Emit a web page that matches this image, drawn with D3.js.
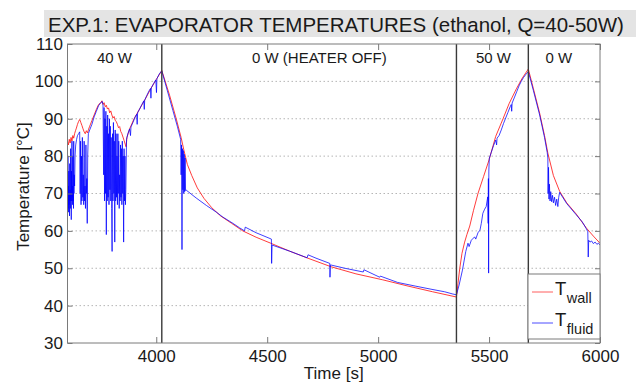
<!DOCTYPE html>
<html><head><meta charset="utf-8">
<script src="https://cdn.jsdelivr.net/npm/d3@7"></script>
<style>
body{margin:0;background:#fff}
svg{display:block}
text{font-family:"Liberation Sans",Arial,Helvetica,sans-serif;fill:#1a1a1a}
</style>
</head><body>
<svg id="c" width="636" height="383"></svg>
<script>
// ---- data ----
const wallTime=[3600,3604,3608,3612,3616,3620,3624,3628,3632,3636,3640,3645,3650,3655,3660,3665,3670,3675,3680,3685,3690,3695,3700,3710,3720,3730,3740,3750,3755,3760,3765,3770,3775,3780,3785,3790,3795,3800,3805,3810,3815,3820,3825,3830,3835,3840,3845,3850,3855,3860,3864,3868,3880,3900,3925,3950,3975,4000,4025,4060,4090,4112,4125,4140,4160,4185,4215,4250,4290,4340,4390,4450,4516,4600,4683,4788,4900,5021,5130,5246,5353,5360,5368,5378,5390,5400,5413,5430,5450,5475,5500,5530,5563,5590,5623,5650,5677,5700,5728,5750,5765,5790,5818,5850,5893,5938,5970,6000];
const wallTemp=[84,83,84.5,83.5,85,84,85.5,84.8,86,86.8,87.5,88.5,89.3,89.8,89,88.2,87.3,86.5,86,86.8,86.2,87.2,88,89.5,91,92.5,93.8,94.3,94.8,93.8,94.3,93.2,93.6,92.6,92.9,91.6,92.1,91,90.2,90.6,89.6,89.2,88.5,87.6,87.9,86.6,86,85.1,84.2,83.2,82.5,85,87.3,90,92.6,95.2,98,100.5,102.9,96.3,90,85,81.5,77.8,74.8,71.5,68.7,66.2,64,62,60,58.3,56.7,54.6,52.7,50.4,48.5,46.9,45.3,43.7,42.3,46,50,54,57,59,61.3,65.5,70,74.5,79,85.3,90,94,98,100.9,103.3,98,91.5,85.5,80.8,74.8,70.6,67.5,64.5,60.8,58.6,56.7];

const fluidTime=[3600,3601,3602,3603,3604,3605,3606,3607,3608,3609,3610,3611,3612,3613,3614,3615,3616,3617,3618,3619,3620,3621,3622,3623,3624,3625,3626,3627,3628,3629,3630,3632,3634,3637,3641,3645,3650,3655,3657,3659,3661,3663,3665,3667,3669,3671,3673,3675,3677,3679,3681,3683,3685,3687,3689,3691,3694,3700,3710,3720,3730,3740,3750,3757,3760,3763,3765,3767,3769,3771,3773,3775,3777,3779,3781,3783,3785,3787,3789,3791,3793,3795,3797,3799,3801,3803,3805,3807,3809,3811,3813,3815,3817,3819,3821,3823,3825,3827,3829,3831,3833,3835,3837,3839,3841,3843,3845,3847,3849,3851,3853,3855,3857,3859,3861,3863,3866,3872,3880,3884,3886,3895,3905,3912,3914,3916,3925,3935,3944,3946,3948,3958,3968,3974,3976,3978,3988,3998,4001,4003,4012,4020,4025,4050,4075,4095,4110,4112,4114,4116,4118,4120,4122,4124,4126,4128,4130,4132,4135,4180,4226,4271,4300,4346,4376,4398,4401,4450,4519,4520,4522,4600,4680,4684,4720,4782,4783,4785,4850,4933,4936,5007,5010,5088,5170,5238,5300,5337,5353,5365,5380,5395,5405,5410,5420,5435,5440,5450,5459,5465,5472,5480,5487,5494,5496,5497,5498,5499,5501,5510,5520,5530,5534,5536,5545,5555,5565,5575,5585,5595,5600,5602,5604,5615,5625,5635,5645,5655,5665,5677,5700,5728,5750,5762,5765,5766,5768,5770,5772,5775,5778,5782,5786,5790,5795,5800,5805,5810,5814,5818,5850,5893,5920,5938,5945,5947,5949,5955,5962,5970,5978,5986,5993,6000];
const fluidTemp=[77,67,80,66,72,65,76,67,70,64,78,68,71,66,82,68,70,63,76,68,84,69,72,67,80,68,70,66,84,70,75,72,80,83,84.5,85.5,86,86.5,70,84,67,80,68,85,69,75,67,84,68,72,66,83,70,74,62,80,86,87,88.5,90.5,92,93.5,94.3,94.6,93.8,75,93,68,90,70,92,59,88,68,91,69,86,67,90,71,88,68,85,66,54.5,86,68,89,70,84,57,87,68,86,69,80,67,86,70,84,66,75,68,83,69,82,67,84,70,80,57,82,68,80,67,71,84.5,86,87.3,85.5,87.8,89,90.5,91.2,88.5,91.6,92.6,93.8,94.8,92.5,95,96.3,97.5,98.1,95.5,98.3,99.4,100.4,97,100.7,101.8,102.5,102.8,97.5,92.2,88,84.5,75,83,55,82,71,81.5,70,80.5,70.5,79.5,70.8,70.9,68.8,66.8,65,63.7,62,60.8,60,61,59.5,57.8,51.3,56.2,54.6,52.8,53.6,52.7,51.3,47.6,50.9,50,49,49.6,47.6,47.9,46.2,45.2,44.4,43.7,43.1,42.9,45.5,49.5,54.5,56.7,55.8,57.5,58.4,57.8,59.5,60.2,62,64.7,65.8,66.5,69.1,62,74,48.7,76,79.4,81,82.8,84.3,83,84.8,85.5,87,88.7,90.2,91.7,93.2,93.8,92,94.2,95.8,97.3,98.8,100,101,101.8,102.6,97.5,91,85,81,79.5,70,77,68.5,72.5,68,70.5,67.8,69.5,67.5,69,66.8,68.5,66.5,69,70.3,67.3,64.3,62.4,60.6,59.8,53,57.5,57,57.3,56.6,57,56.4,56.7,56.2];

const xTicks=[4000,4500,5000,5500,6000];
const yTicks=[30,40,50,60,70,80,90,100,110];
const gridTemps=[40,50,60,70,80,90,100];
const phaseBounds=[4025,5353,5677];
const phaseLabels=["40 W","0 W (HEATER OFF)","50 W","0 W"];
const phaseLabelTimes=[3812,4735,5520,5815];
const titleText="EXP.1: EVAPORATOR TEMPERATURES (ethanol, Q=40-50W)";
const legendNames=[["T","wall"],["T","fluid"]];
const seriesColors=["#ff1a1a","#0000ff"];

// ---- layout ----
const L=67.5,R=600,T=44,B=343;
const svg=d3.select("#c");
const x=d3.scaleLinear().domain([3600,6000]).range([L,R]);
const y=d3.scaleLinear().domain([30,110]).range([B,T]);

// title
svg.append("rect").attr("x",44).attr("y",10).attr("width",592).attr("height",27).attr("fill","#e4e4e4");
svg.append("text").attr("x",48).attr("y",32).attr("font-size",20.5).text(titleText);

// plot background
svg.append("rect").attr("x",L).attr("y",T).attr("width",R-L).attr("height",B-T).attr("fill","#fff");

// grid
svg.append("g").selectAll("line").data(gridTemps).join("line")
  .attr("x1",L).attr("x2",R).attr("y1",d=>y(d)).attr("y2",d=>y(d))
  .attr("stroke","#b5b5b5").attr("stroke-width",1).attr("stroke-dasharray","1.5,2.5");

// data lines
svg.append("defs").append("clipPath").attr("id","pc").append("rect")
  .attr("x",L).attr("y",T).attr("width",R-L).attr("height",B-T);
const line=d3.line().x(d=>x(d[0])).y(d=>y(d[1]));
const wall=wallTime.map((t,i)=>[t,wallTemp[i]]);
const fluid=fluidTime.map((t,i)=>[t,fluidTemp[i]]);
svg.append("path").attr("d",line(wall)).attr("fill","none").attr("stroke",seriesColors[0])
  .attr("stroke-width",1).attr("stroke-opacity",0.85).attr("clip-path","url(#pc)");
svg.append("path").attr("d",line(fluid)).attr("fill","none").attr("stroke",seriesColors[1])
  .attr("stroke-width",1).attr("stroke-opacity",0.75).attr("stroke-linejoin","round").attr("clip-path","url(#pc)");

// phase dividers
svg.append("g").selectAll("line").data(phaseBounds).join("line")
  .attr("x1",d=>x(d)).attr("x2",d=>x(d)).attr("y1",T).attr("y2",B)
  .attr("stroke","#3a3a3a").attr("stroke-width",1.4);

// phase labels
svg.append("g").selectAll("text").data(phaseLabels).join("text")
  .attr("x",(d,i)=>x(phaseLabelTimes[i])).attr("y",63).attr("text-anchor","middle")
  .attr("font-size",15).text(d=>d);

// axes
function styleAxis(g){
  g.selectAll(".domain").remove();
  g.selectAll(".tick line").attr("stroke","#7a7a7a");
  g.selectAll(".tick text").attr("fill","#1a1a1a").attr("font-size",17)
    .attr("font-family",'"Liberation Sans",Arial,sans-serif');
}
svg.append("g").attr("transform",`translate(0,${B})`)
  .call(d3.axisBottom(x).tickValues(xTicks).tickSize(-6).tickPadding(6.5).tickFormat(d3.format("d")))
  .call(styleAxis);
svg.append("g").attr("transform",`translate(0,${T})`)
  .call(d3.axisTop(x).tickValues(xTicks).tickSize(-6).tickFormat(""))
  .call(styleAxis);
svg.append("g").attr("transform",`translate(${L},0)`)
  .call(d3.axisLeft(y).tickValues(yTicks).tickSize(-5).tickPadding(4.5).tickFormat(d3.format("d")))
  .call(styleAxis);
svg.append("g").attr("transform",`translate(${R},0)`)
  .call(d3.axisRight(y).tickValues(yTicks).tickSize(-5).tickFormat(""))
  .call(styleAxis);

// frame
svg.append("rect").attr("x",L).attr("y",T).attr("width",R-L).attr("height",B-T)
  .attr("fill","none").attr("stroke","#7a7a7a").attr("stroke-width",1);

// axis titles
svg.append("text").attr("x",(L+R)/2).attr("y",379).attr("text-anchor","middle")
  .attr("font-size",17).text("Time [s]");
svg.append("text").attr("transform",`translate(29,${(T+B)/2 - 7}) rotate(-90)`)
  .attr("text-anchor","middle").attr("font-size",17).text("Temperature [°C]");

// legend
const lg=svg.append("g");
lg.append("rect").attr("x",528).attr("y",274).attr("width",72).attr("height",65)
  .attr("fill","#fff").attr("stroke","#7a7a7a").attr("stroke-width",1);
const rows=[292,323];
legendNames.forEach((n,i)=>{
  lg.append("line").attr("x1",532).attr("x2",553).attr("y1",rows[i]).attr("y2",rows[i])
    .attr("stroke",seriesColors[i]).attr("stroke-width",1).attr("stroke-opacity",0.7);
  const t=lg.append("text").attr("x",555).attr("y",rows[i]+3).attr("font-size",18.5);
  t.append("tspan").text(n[0]);
  t.append("tspan").attr("font-size",14.5).attr("dy",8).attr("dx",0.5).text(n[1]);
});
</script>
</body></html>
